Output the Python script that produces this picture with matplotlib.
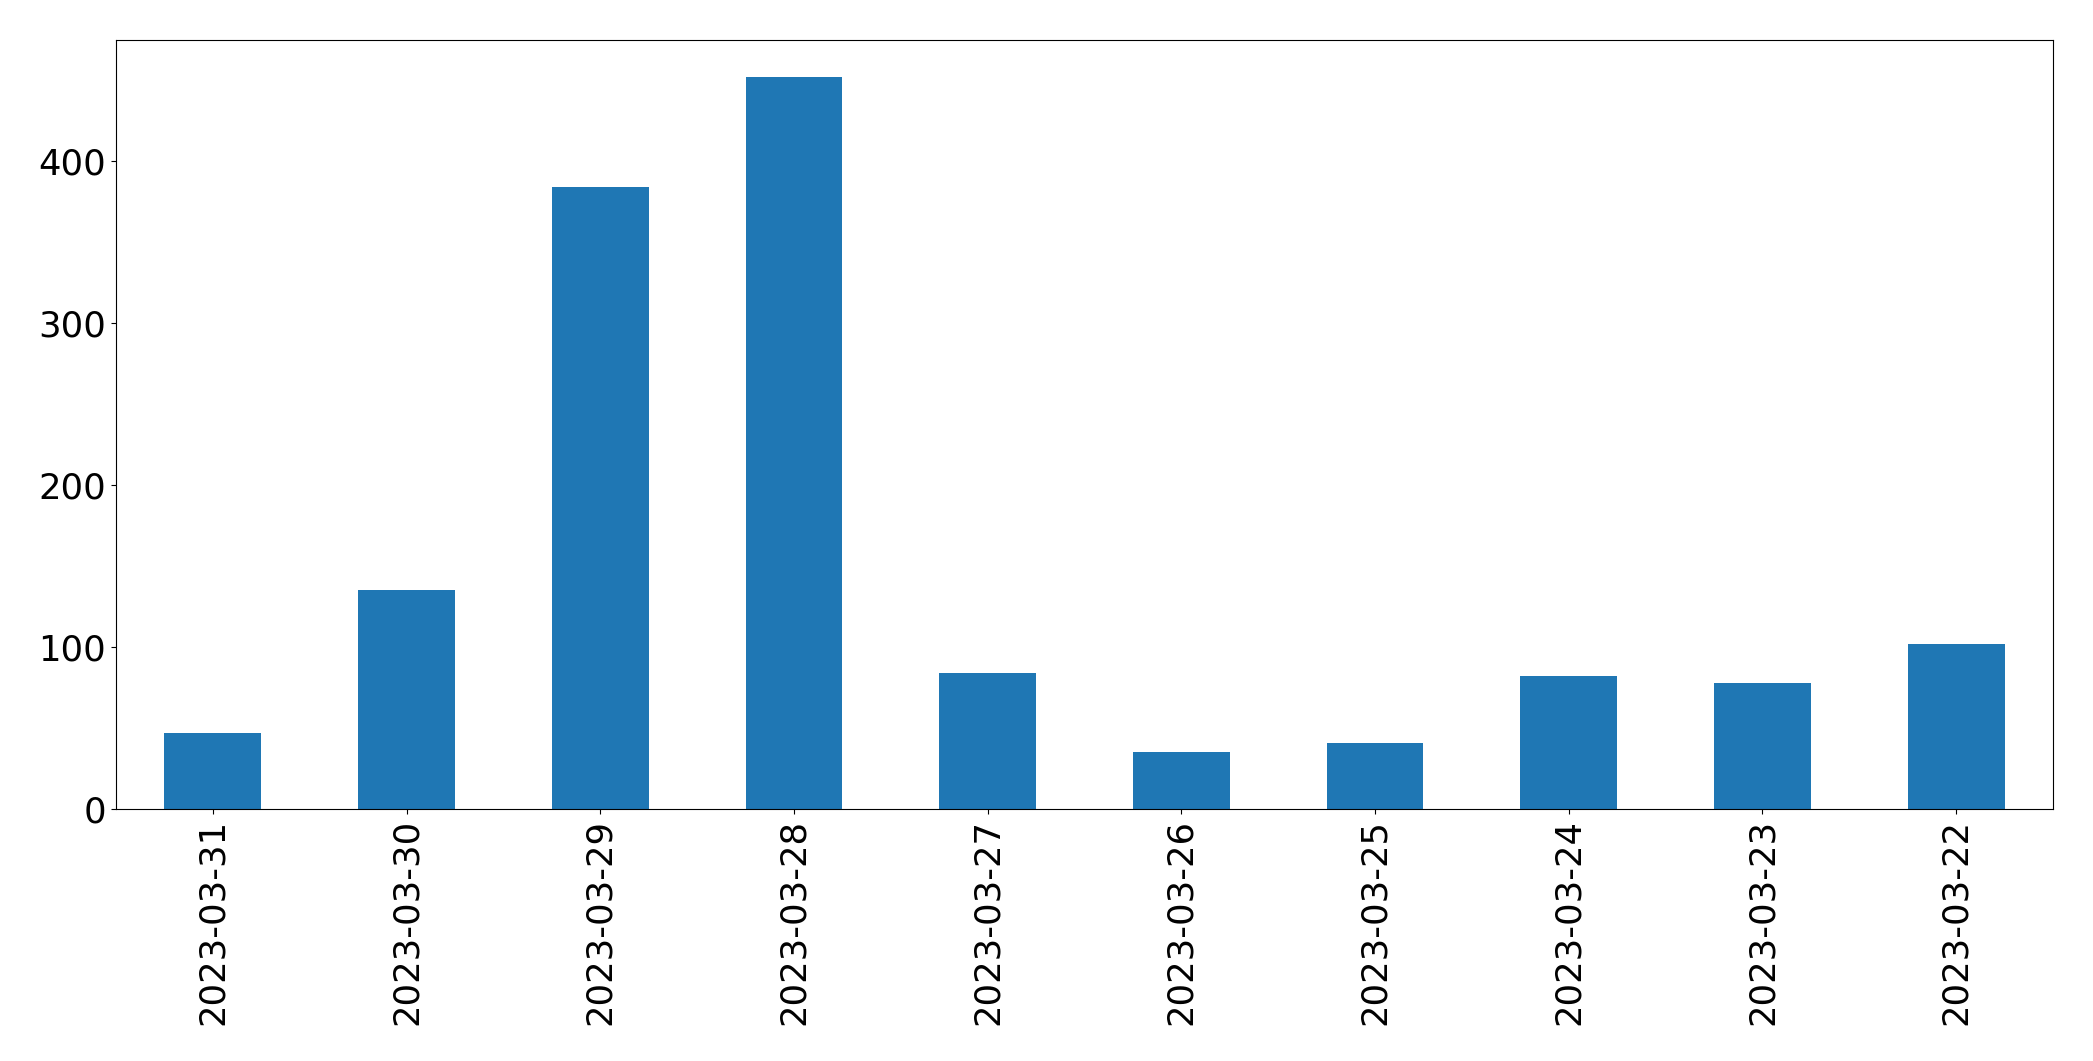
import matplotlib
matplotlib.use("Agg")
import matplotlib.pyplot as plt
import numpy as np

# ================= DATA =================
dates = ["2023-03-31", "2023-03-30", "2023-03-29", "2023-03-28", "2023-03-27",
         "2023-03-26", "2023-03-25", "2023-03-24", "2023-03-23", "2023-03-22"]
counts = [47, 135, 384, 452, 84, 35, 41, 82, 78, 102]

# ================= PLOT =================
fig = plt.figure(figsize=(20.93, 10.61), dpi=100)
ax = fig.add_axes([116 / 2093, 1 - 809 / 1061, (2053 - 116) / 2093, (809 - 40) / 1061])

x = np.arange(len(dates))
ax.bar(x, counts, width=0.5, color="#1f77b4")
ax.set_xlim(-0.5, len(dates) - 0.5)
ax.set_ylim(0, max(counts) * 1.05)
ax.set_xticks(x)
ax.set_xticklabels(dates, rotation=90)
ax.set_yticks([0, 100, 200, 300, 400])
ax.tick_params(labelsize=25.5)

fig.savefig("out.png", dpi=100)
